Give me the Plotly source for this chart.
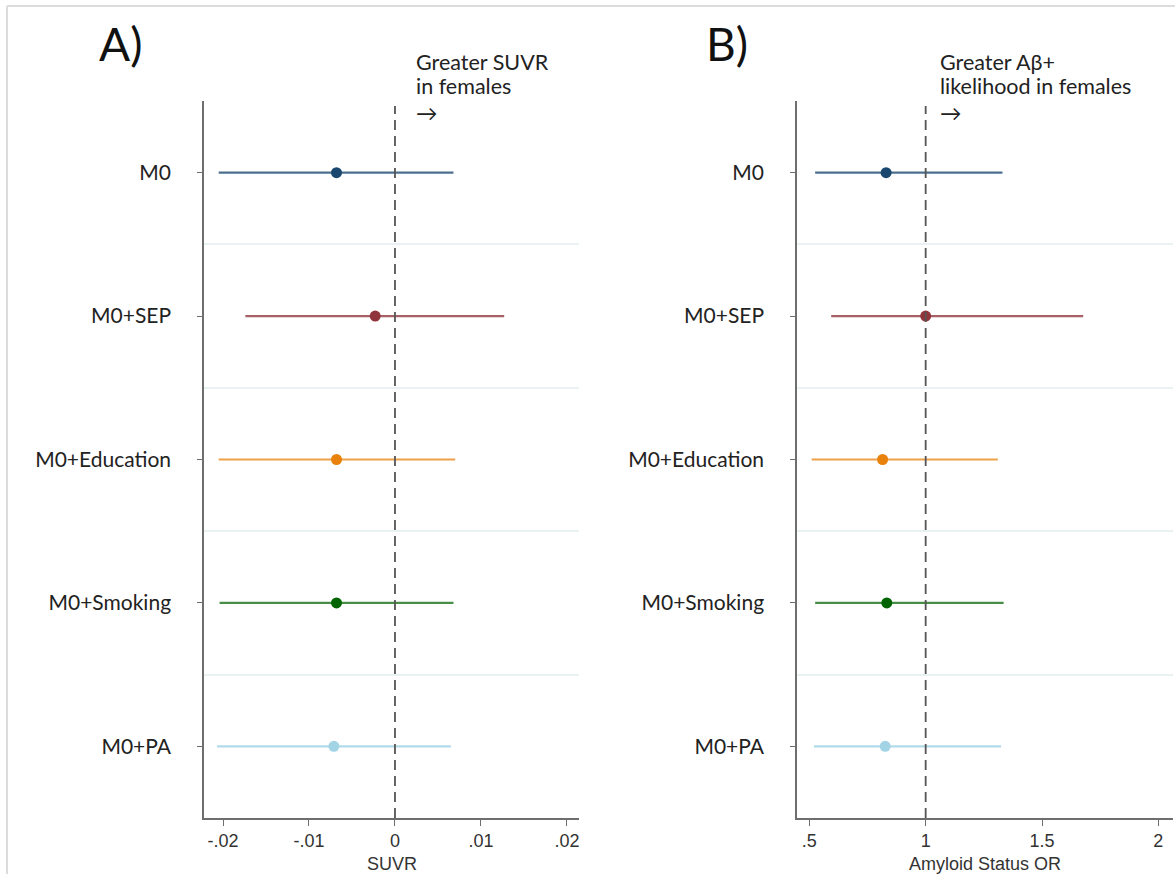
import plotly.graph_objects as go

# ---------------- data ----------------
categories = ["M0", "M0+SEP", "M0+Education", "M0+Smoking", "M0+PA"]
row_pos = [1, 2, 3, 4, 5]

suvr_est = [-0.0068, -0.0023, -0.0068, -0.0068, -0.0071]
suvr_lo = [-0.0205, -0.0174, -0.0205, -0.0204, -0.0207]
suvr_hi = [0.0068, 0.0127, 0.0070, 0.0068, 0.0065]

or_est = [0.830, 1.000, 0.815, 0.833, 0.826]
or_lo = [0.525, 0.594, 0.510, 0.525, 0.520]
or_hi = [1.330, 1.677, 1.310, 1.335, 1.324]

suvr_ticks = [-0.02, -0.01, 0, 0.01, 0.02]
suvr_ticktext = ["-.02", "-.01", "0", ".01", ".02"]
or_ticks = [0.5, 1, 1.5, 2]
or_ticktext = [".5", "1", "1.5", "2"]

note_a = ["Greater SUVR", "in females", "→"]
note_b = ["Greater Aβ+", "likelihood in females", "→"]

dot_colors = ["#1a476f", "#90353b", "#e8820c", "#006400", "#a3d4e6"]
line_colors = ["rgba(26,71,111,0.78)", "rgba(144,53,59,0.78)", "rgba(232,130,12,0.75)",
               "rgba(0,100,0,0.72)", "rgba(163,212,230,0.85)"]

W, H = 1175, 874
LABEL_FONT = "Lato, 'Open Sans', sans-serif"
TICK_FONT = "'Liberation Sans', Arial, sans-serif"

fig = go.Figure()

panels = [
    (suvr_est, suvr_lo, suvr_hi, "x", "y"),
    (or_est, or_lo, or_hi, "x2", "y2"),
]
for est, lo, hi, xa, ya in panels:
    for i, cat in enumerate(categories):
        fig.add_trace(go.Scatter(
            x=[lo[i], hi[i]], y=[row_pos[i], row_pos[i]], mode="lines",
            line=dict(color=line_colors[i], width=2.2), xaxis=xa, yaxis=ya,
            showlegend=False, hoverinfo="skip"))
        fig.add_trace(go.Scatter(
            x=[est[i]], y=[row_pos[i]], mode="markers",
            marker=dict(color=dot_colors[i], size=11, line=dict(width=0)),
            xaxis=xa, yaxis=ya, showlegend=False, name=cat))

ydom = [1 - 818 / H, 1 - 101 / H]

yaxis_common = dict(
    domain=ydom, range=[5.5, 0.5], showline=True, linecolor="#6e6e6e", linewidth=1.5,
    ticks="outside", ticklen=5, tickcolor="#6e6e6e", tickwidth=1.2,
    tickvals=row_pos, ticktext=categories,
    tickfont=dict(family=LABEL_FONT, size=21, color="#222222"),
    ticklabelstandoff=22, showgrid=False, zeroline=False,
    minor=dict(tickvals=[1.5, 2.5, 3.5, 4.5], showgrid=True, gridcolor="#e9f1f2",
               gridwidth=1.5, ticks=""),
)
xaxis_common = dict(
    showline=True, linecolor="#6e6e6e", linewidth=1.5, ticks="outside", ticklen=6,
    tickcolor="#6e6e6e", tickwidth=1.2, showgrid=False, zeroline=False,
    tickfont=dict(family=TICK_FONT, size=18, color="#333333"), ticklabelstandoff=0,
)

fig.update_layout(
    width=W, height=H, margin=dict(l=0, r=0, t=0, b=0),
    paper_bgcolor="white", plot_bgcolor="white",
    xaxis=dict(domain=[204 / W, 579 / W], range=[-0.02221, 0.02140], anchor="y",
               tickvals=suvr_ticks, ticktext=suvr_ticktext, **xaxis_common),
    yaxis=dict(anchor="x", **yaxis_common),
    xaxis2=dict(domain=[797 / W, 1173 / W], range=[0.447, 2.063], anchor="y2",
                tickvals=or_ticks, ticktext=or_ticktext, **xaxis_common),
    yaxis2=dict(anchor="x2", **yaxis_common),
)

# reference lines (null effect)
fig.add_shape(type="line", xref="x", yref="y domain", x0=0, x1=0, y0=0, y1=0.993,
              line=dict(color="#555555", width=1.8, dash="10px,6px"))
fig.add_shape(type="line", xref="x2", yref="y2 domain", x0=1, x1=1, y0=0, y1=0.993,
              line=dict(color="#555555", width=1.8, dash="10px,6px"))

# light frame (top & left)
fig.add_shape(type="line", xref="paper", yref="paper", x0=7 / W, x1=1, y0=1 - 6 / H, y1=1 - 6 / H,
              line=dict(color="#dcdcdc", width=2))
fig.add_shape(type="line", xref="paper", yref="paper", x0=7 / W, x1=7 / W, y0=0, y1=1 - 6 / H,
              line=dict(color="#dcdcdc", width=2))

# panel labels
fig.add_annotation(text="A)", xref="paper", yref="paper", x=97 / W, y=1 - 43 / H,
                   xanchor="left", yanchor="middle", showarrow=False,
                   font=dict(family=LABEL_FONT, size=46, color="#111111"))
fig.add_annotation(text="B)", xref="paper", yref="paper", x=704 / W, y=1 - 43 / H,
                   xanchor="left", yanchor="middle", showarrow=False,
                   font=dict(family=LABEL_FONT, size=46, color="#111111"))

# direction notes (one annotation per line)
note_rows_px = [62, 86, 113]
for notes, xpx in ((note_a, 414), (note_b, 938)):
    for txt, ypx in zip(notes, note_rows_px):
        fig.add_annotation(text=txt, xref="paper", yref="paper", x=xpx / W, y=1 - ypx / H,
                           xanchor="left", yanchor="middle", showarrow=False,
                           font=dict(family=LABEL_FONT, size=21.5, color="#222222"))

# axis titles
fig.add_annotation(text="SUVR", xref="paper", yref="paper", x=(204 + 579) / 2 / W, y=1 - 864 / H,
                   xanchor="center", yanchor="middle", showarrow=False,
                   font=dict(family=TICK_FONT, size=18, color="#333333"))
fig.add_annotation(text="Amyloid Status OR", xref="paper", yref="paper", x=(797 + 1173) / 2 / W,
                   y=1 - 864 / H, xanchor="center", yanchor="middle", showarrow=False,
                   font=dict(family=TICK_FONT, size=18, color="#333333"))

fig.write_html("out.html")
